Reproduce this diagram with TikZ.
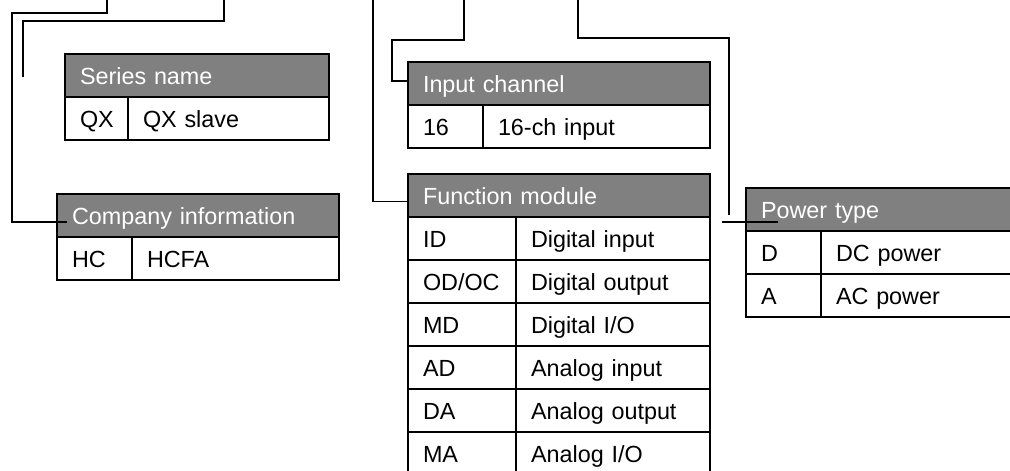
\documentclass[tikz,border=0pt]{standalone}
\usepackage{fontspec}
\setmainfont{Liberation Sans}
\usetikzlibrary{calc}
\definecolor{cHeadGray}{RGB}{128,128,128}
\newcommand{\upx}{0.02cm}

\begin{document}
\begin{tikzpicture}[x=0.02cm, y=-0.02cm,
    every node/.style={font=\fontsize{13.3}{16}\selectfont},
    tabcell/.style={draw, line width=1.1pt, outer sep=0pt, anchor=north west,
      inner xsep=15*\upx, inner ysep=0pt, minimum height=43*\upx,
      text height=18*\upx, text depth=1*\upx, align=left},
    tabhead/.style={tabcell, fill=cHeadGray, text=white},
    cw/.style={text width=#1*\upx-30*\upx},
    wire/.style={line width=1.1pt}]
  \useasboundingbox (0,0) rectangle (1010,470);
  \clip (0,0) rectangle (1010,470);

  % series name
  \node[tabhead, cw=264] (series) at (65,54) {Series name};
  \node[tabcell, cw=63] (seriesCode) at (series.south west) {QX};
  \node[tabcell, cw=201] (seriesDesc) at (seriesCode.north east) {QX slave};

  % company information
  \node[tabhead, cw=282] (company) at (57,194) {Company information};
  \node[tabcell, cw=75] (companyCode) at (company.south west) {HC};
  \node[tabcell, cw=207] (companyDesc) at (companyCode.north east) {HCFA};

  % input channel
  \node[tabhead, cw=302] (inch) at (408,62) {Input channel};
  \node[tabcell, cw=75] (inchCode) at (inch.south west) {16};
  \node[tabcell, cw=227] (inchDesc) at (inchCode.north east) {16-ch input};

  % function module
  \node[tabhead, cw=302] (func) at (408,174) {Function module};
  \foreach \code/\desc [count=\i] in {ID/{Digital input}, {OD/OC}/{Digital output},
      MD/{Digital I/O}, AD/{Analog input}, DA/{Analog output}, MA/{Analog I/O}} {
    \node[tabcell, cw=108] (funcCode\i) at ($(func.south west)+(0,{43*\i-43})$) {\code};
    \node[tabcell, cw=194] (funcDesc\i) at (funcCode\i.north east) {\desc};
  }

  % power type
  \node[tabhead, cw=270] (power) at (746,188) {Power type};
  \node[tabcell, cw=75] (powerCode1) at (power.south west) {D};
  \node[tabcell, cw=195] (powerDesc1) at (powerCode1.north east) {DC power};
  \node[tabcell, cw=75] (powerCode2) at (powerCode1.south west) {A};
  \node[tabcell, cw=195] (powerDesc2) at (powerCode2.north east) {AC power};

  % leader lines
  \coordinate (topA) at (107,0);
  \coordinate (topB) at (224,0);
  \coordinate (endB) at (23,77);
  \coordinate (topC) at (373,0);
  \coordinate (topD) at (464,0);
  \coordinate (topE) at (578,0);
  \coordinate (endE) at (729,215);

  \draw[wire] (topA) |- (12,13) |- ($(company.west)+(10,6.5)$);
  \draw[wire] (topB) |- (23,21) -- (endB);
  \draw[wire] (topC) |- ($(func.west)+(0,6)$);
  \draw[wire] (topD) |- (392,40) |- ($(inch.west)+(0,-2.5)$);
  \draw[wire] (topE) |- (729,38) -- (endE);
  \draw[wire] ($(power.west)+(-24,12.5)$) -- ++(56,0);
\end{tikzpicture}
\end{document}
